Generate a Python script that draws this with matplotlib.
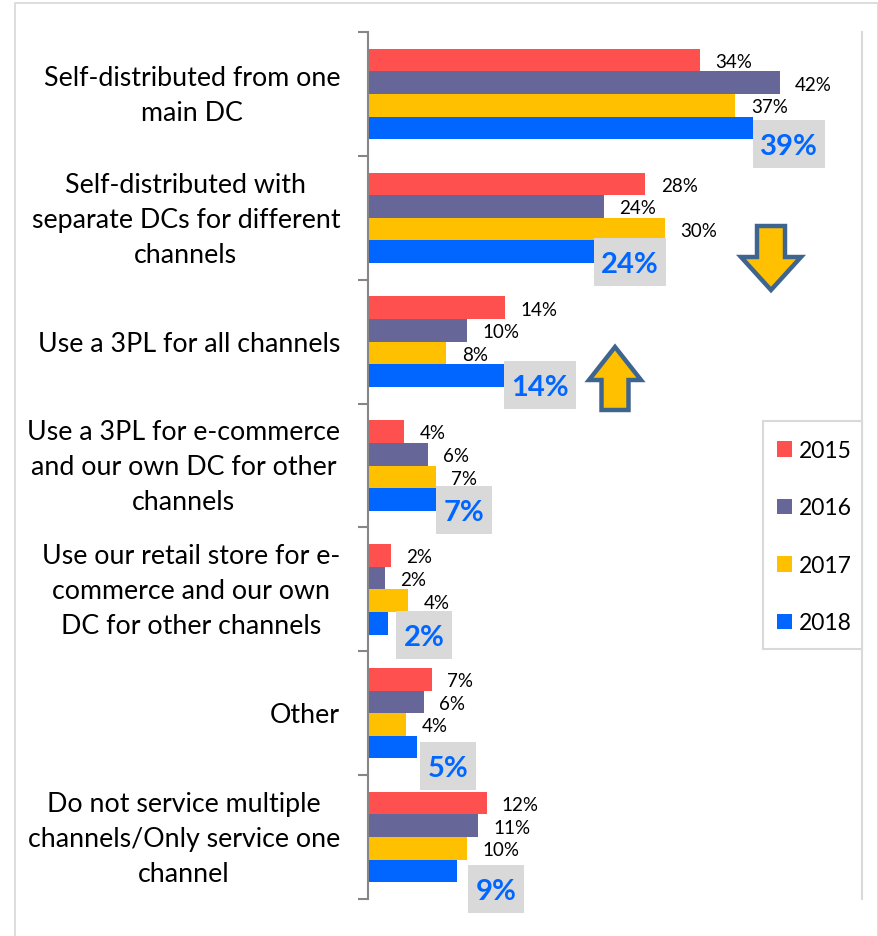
import matplotlib
matplotlib.use("Agg")
import matplotlib.pyplot as plt
from matplotlib.lines import Line2D
from matplotlib.patches import Patch, Polygon, Rectangle

plt.rcParams['font.family'] = ['Lato', 'DejaVu Sans']

categories = [
    "Self-distributed from one\nmain DC",
    "Self-distributed with\nseparate DCs for different\nchannels",
    "Use a 3PL for all channels",
    "Use a 3PL for e-commerce\nand our own DC for other\nchannels",
    "Use our retail store for e-\ncommerce and our own\nDC for other channels",
    "Other",
    "Do not service multiple\nchannels/Only service one\nchannel",
]
years = ["2015", "2016", "2017", "2018"]
v2015 = [33.9, 28.3, 14.0, 3.7, 2.3, 6.5, 12.1]
v2016 = [42.0, 24.1, 10.1, 6.1, 1.7, 5.7, 11.2]
v2017 = [37.5, 30.3, 8.0, 6.9, 4.1, 3.9, 10.1]
v2018 = [39.3, 24.0, 14.0, 6.9, 2.0, 5.0, 9.1]
t2015 = ["34%", "28%", "14%", "4%", "2%", "7%", "12%"]
t2016 = ["42%", "24%", "10%", "6%", "2%", "6%", "11%"]
t2017 = ["37%", "30%", "8%", "7%", "4%", "4%", "10%"]
t2018 = ["39%", "24%", "14%", "7%", "2%", "5%", "9%"]
colors = ["#FF5050", "#666699", "#FFC000", "#0066FF"]

W, H = 879, 937
L, R, T, B = 368, 862, 33, 900
PX_PER_PCT = 9.8
PITCH = (B - T) / len(categories)

fig = plt.figure(figsize=(W / 100, H / 100), dpi=100, facecolor="white")

# outer image frame (open at the bottom)
frame_x = [15.5 / W, 15.5 / W, 878 / W, 878 / W]
frame_y = [0, 1 - 3.5 / H, 1 - 3.5 / H, 0]
fig.add_artist(Line2D(frame_x, frame_y, color="#DDDDDD", linewidth=1.4))

ax = fig.add_axes([L / W, 1 - B / H, (R - L) / W, (B - T) / H])
ax.patch.set_alpha(0)
ax.set_xlim(0, (R - L) / PX_PER_PCT)
ax.set_ylim(len(categories) - 0.5, -0.5)

bar_h = 22.6 / PITCH
series = [v2015, v2016, v2017, v2018]
texts = [t2015, t2016, t2017, t2018]
ypos = list(range(len(categories)))
for j, (vals, col) in enumerate(zip(series, colors)):
    ys = [y + (j - 1.5) * bar_h for y in ypos]
    ax.barh(ys, vals, height=bar_h, color=col, edgecolor="none", zorder=2)
    if j < 3:
        for y, v, t in zip(ys, vals, texts[j]):
            ax.annotate(t, (v, y), xytext=(11, -1), textcoords="offset points",
                        ha="left", va="center", fontsize=13.5, color="black", zorder=4)

# highlighted 2018 labels: grey box left edge / top in pixels
box_left = [753, 594, 504, 436, 396, 420, 468]
box_top = [121, 239, 362, 487, 612, 743, 866]
box_w = [72, 72, 72, 56, 56, 56, 56]
box_h = 48


def px(x, y):
    return (x - L) / PX_PER_PCT, (y - T) / PITCH - 0.5


for t, xl, yt, w in zip(t2018, box_left, box_top, box_w):
    x0, y0 = px(xl, yt)
    x1, y1 = px(xl + w, yt + box_h)
    ax.add_patch(Rectangle((x0, y0), x1 - x0, y1 - y0, facecolor="#D9D9D9", edgecolor="none",
                           zorder=3, clip_on=False))
    ax.annotate(t, ((x0 + x1) / 2, (y0 + y1) / 2), xytext=(0, -1.5), textcoords="offset points",
                ha="center", va="center", fontsize=21,
                fontweight="bold", color="#0066FF", zorder=4, annotation_clip=False)


def block_arrow(cx, tip, base, head_len, head_hw, shaft_hw):
    d = 1 if base > tip else -1
    pts = [(cx, tip), (cx + head_hw, tip + d * head_len), (cx + shaft_hw, tip + d * head_len),
           (cx + shaft_hw, base), (cx - shaft_hw, base), (cx - shaft_hw, tip + d * head_len),
           (cx - head_hw, tip + d * head_len)]
    ax.add_patch(Polygon([px(*p) for p in pts], closed=True, facecolor="#FFC000",
                         edgecolor="#3E6590", linewidth=3.2, zorder=5, clip_on=False, joinstyle="miter"))


block_arrow(771, 291, 227, 33, 30, 14)
block_arrow(615, 348, 411, 33, 26, 13.5)

ax.spines["top"].set_visible(False)
ax.spines["bottom"].set_visible(False)
ax.spines["right"].set_color("#D9D9D9")
ax.spines["right"].set_linewidth(1.5)
ax.spines["left"].set_color("#868686")
ax.spines["left"].set_linewidth(1.5)
ax.set_xticks([])
ax.set_yticks([y - 0.5 for y in ypos] + [len(ypos) - 0.5])
ax.set_yticklabels([])
ax.tick_params(axis="y", length=7.5, width=1.5, color="#868686")

for y, c in zip(ypos, categories):
    ax.annotate(c, (0, y), xytext=(-20, -1), textcoords="offset points", ha="right", va="center",
                multialignment="center", fontsize=19.3, linespacing=1.5, color="black")

# legend: frame and entries
x0, y0 = px(763, 422)
x1, y1 = px(862, 650)
ax.add_patch(Rectangle((x0, y0), x1 - x0, y1 - y0, facecolor="white", edgecolor="#D9D9D9",
                       linewidth=1.5, zorder=5, clip_on=False))
handles = [Patch(facecolor=c, edgecolor="none", label=y) for c, y in zip(colors, years)]
leg = ax.legend(handles=handles, loc="upper left",
                bbox_to_anchor=((777 - L) / (R - L), 1 - (441 - T) / (B - T)),
                borderaxespad=0, frameon=False, fontsize=16.5,
                handlelength=0.66, handleheight=0.66, handletextpad=0.3,
                labelspacing=1.59, borderpad=0)
leg.set_zorder(6)

fig.savefig("out.png", dpi=100, facecolor="white")
